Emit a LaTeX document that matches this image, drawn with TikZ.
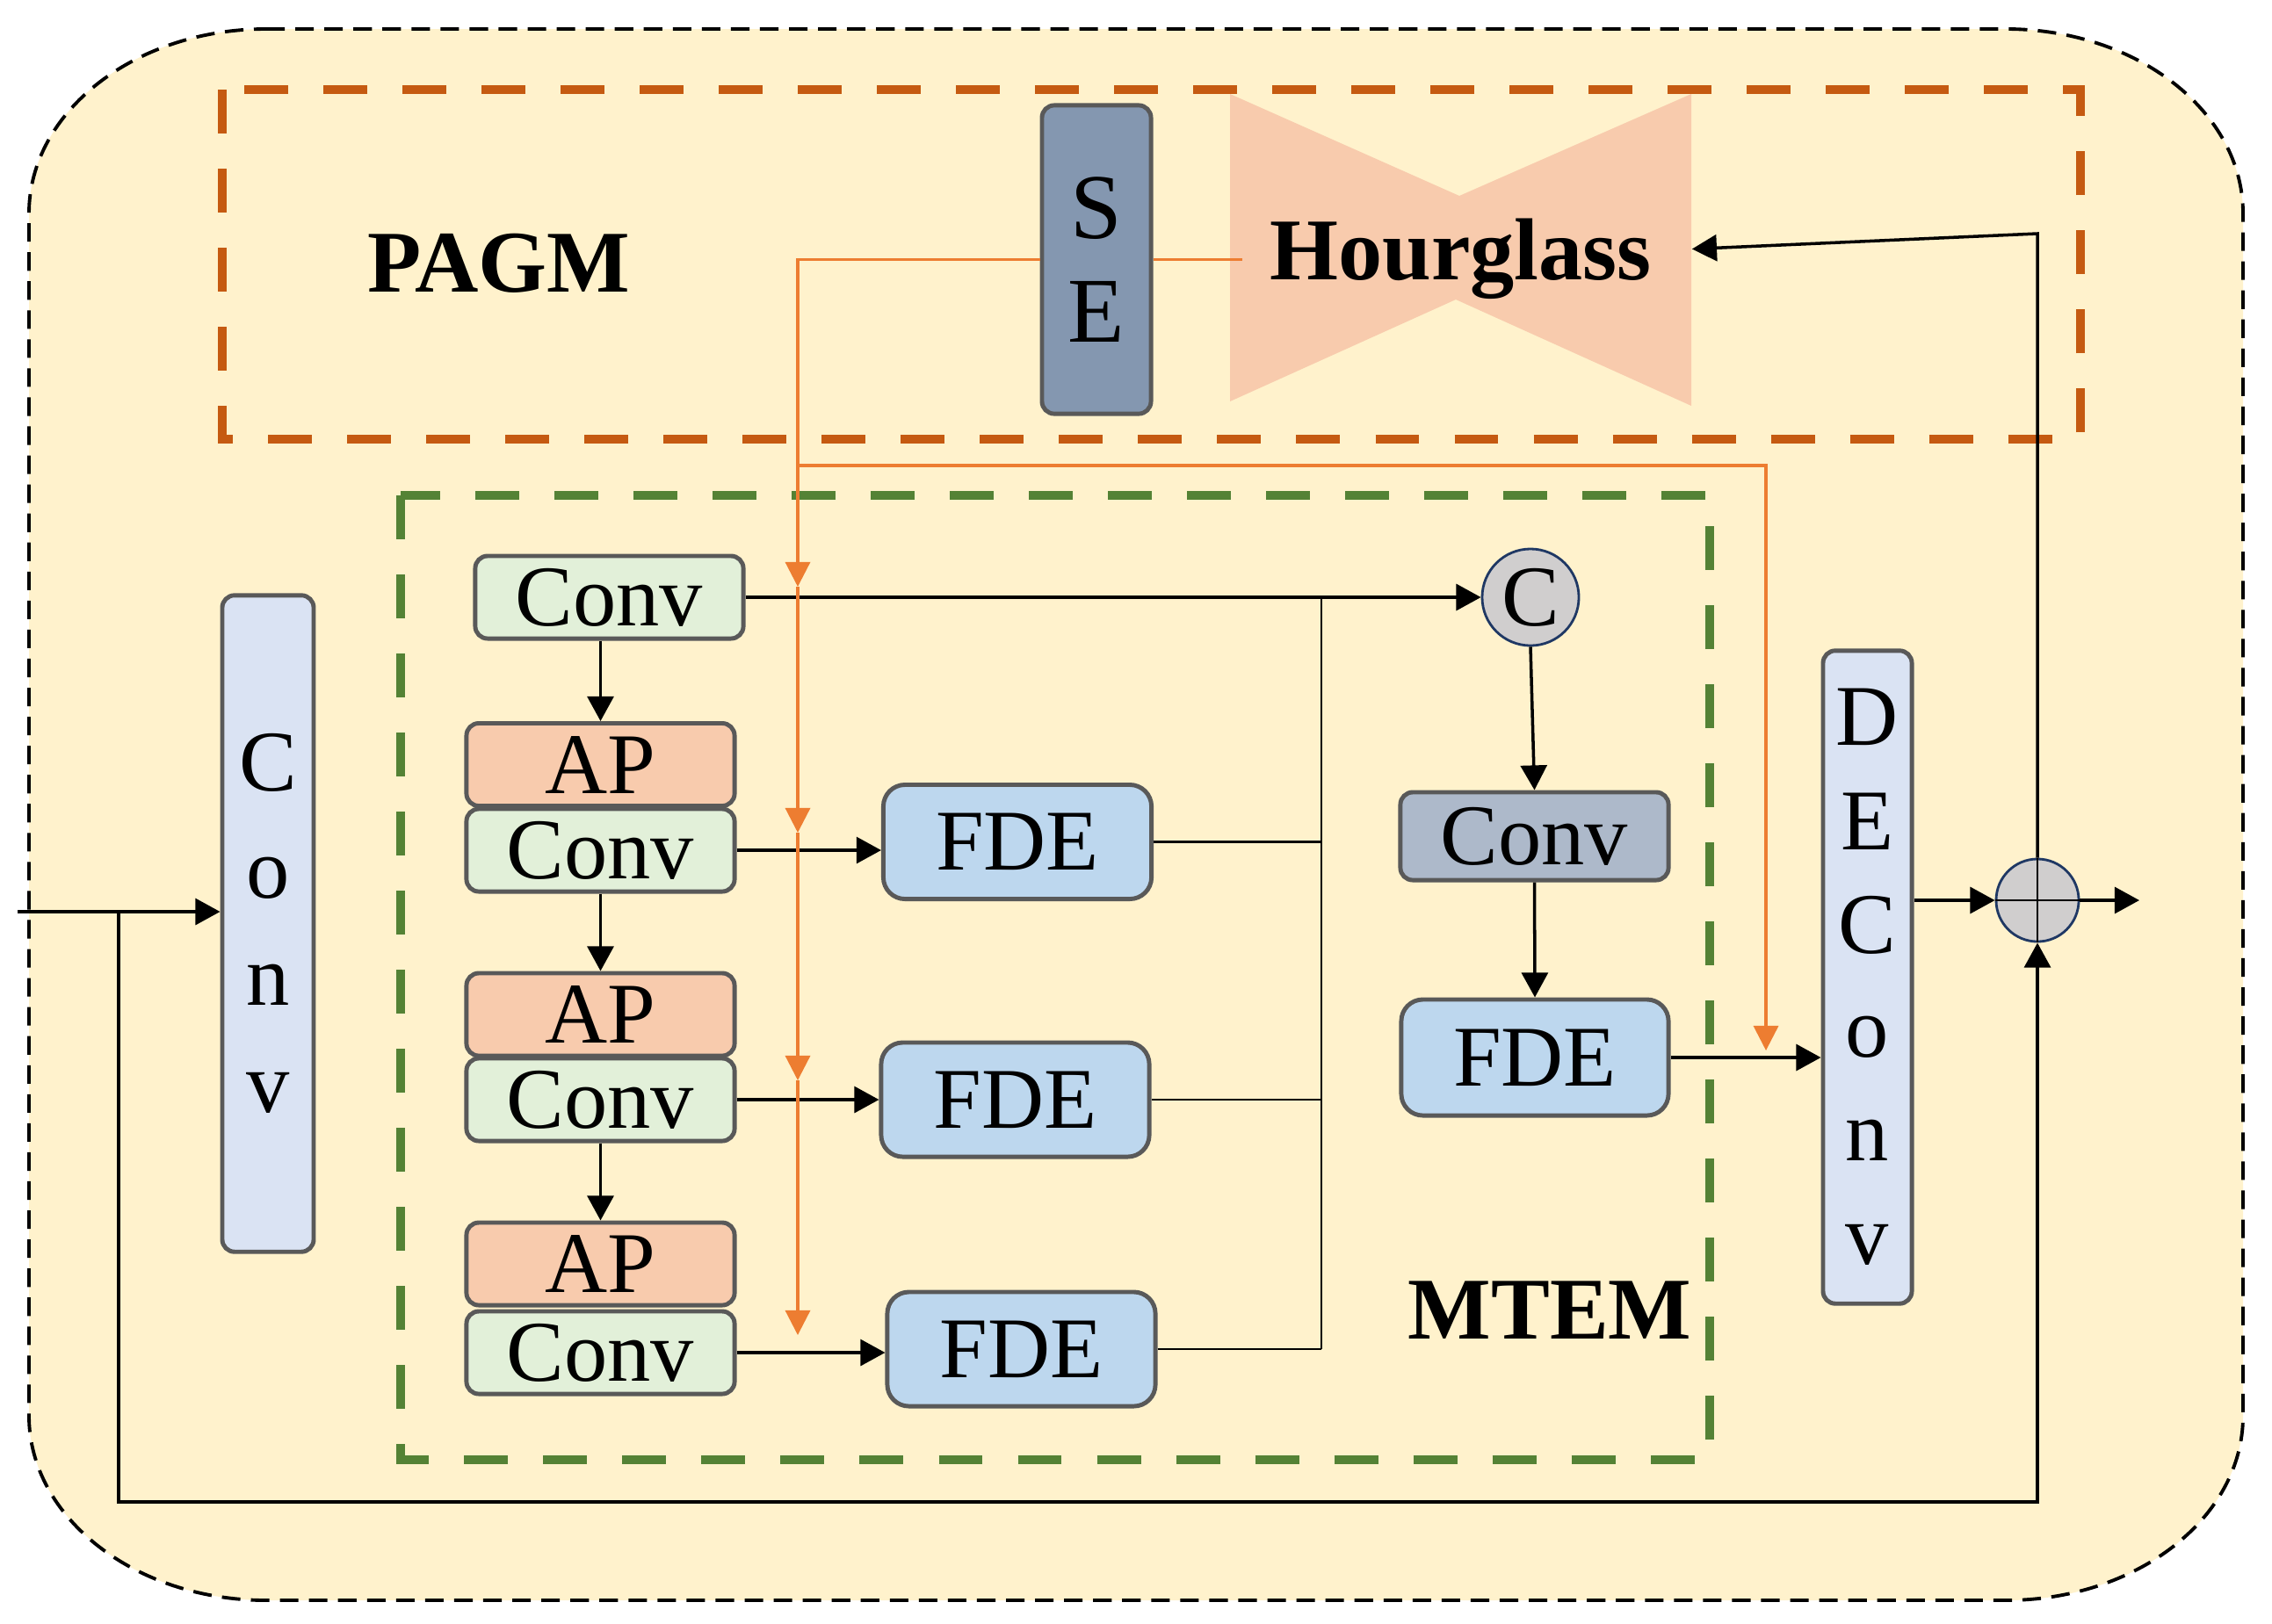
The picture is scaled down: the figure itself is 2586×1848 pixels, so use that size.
\documentclass[tikz,border=0pt]{standalone}
\usepackage{fontspec}
\setmainfont{Liberation Serif}
\usetikzlibrary{arrows.meta}
\definecolor{bgy}{HTML}{FFF2CC}
\definecolor{pagmc}{HTML}{C55A11}
\definecolor{mtemc}{HTML}{548235}
\definecolor{orl}{HTML}{ED7D31}
\definecolor{sec}{HTML}{8497B0}
\definecolor{hgc}{HTML}{F8CBAD}
\definecolor{convg}{HTML}{E2F0D9}
\definecolor{apc}{HTML}{F8CBAD}
\definecolor{fdec}{HTML}{BDD7EE}
\definecolor{conv5c}{HTML}{ADB9CA}
\definecolor{tallc}{HTML}{DAE3F3}
\definecolor{cg}{HTML}{D0CECE}
\definecolor{navy}{HTML}{1F3864}
\definecolor{bord}{HTML}{595959}
\tikzset{
  box/.style={draw=bord, line width=1.4pt, rounded corners=4pt, inner sep=0pt,
              font=\fontsize{28}{30}\selectfont},
  convbox/.style={box, fill=convg, minimum width=3.05cm, minimum height=0.94cm},
  apbox/.style={box, fill=apc, minimum width=3.05cm, minimum height=0.94cm},
  fdebox/.style={box, fill=fdec, minimum width=3.05cm, minimum height=1.3cm, rounded corners=7pt},
  tallbox/.style={box, fill=tallc, align=center},
  circ/.style={circle, draw=navy, line width=0.8pt, fill=cg, inner sep=0pt,
               font=\fontsize{28}{30}\selectfont},
  title/.style={font=\bfseries\fontsize{28.5}{30}\selectfont, inner sep=0pt},
  arr/.style={-{Triangle[length=8pt,width=8.5pt]}, line width=1pt},
  ln/.style={line width=0.8pt},
  oline/.style={draw=orl, line width=0.9pt},
  oarr/.style={oline, -{Triangle[length=8pt,width=8pt]}},
  frame/.style={line width=3pt, dash pattern=on 14.2pt off 11.4pt},
}
\begin{document}
\begin{tikzpicture}[x=0.01cm,y=-0.01cm]
\useasboundingbox (0,0) rectangle (2586,1848);
% outer frame
\draw[fill=bgy, line width=1.1pt, dash pattern=on 6pt off 3.4pt]
  (303,33) -- (2283,33) .. controls (2432,33) and (2553,127) .. (2553,243)
  -- (2553,1612) .. controls (2553,1728) and (2432,1822) .. (2283,1822)
  -- (303,1822) .. controls (154,1822) and (33,1728) .. (33,1612)
  -- (33,243) .. controls (33,127) and (154,33) .. (303,33) -- cycle;
% module frames
\draw[frame, draw=pagmc] (253,102) rectangle (2368,500);
\draw[frame, draw=mtemc] (456,564) rectangle (1946,1662);
% hourglass shape
\fill[hgc] (1400,107) -- (1661,223) -- (1925,107) -- (1925,462) -- (1657,341) -- (1400,457) -- cycle;
\node[title, text depth=0pt, minimum width=5.25cm, minimum height=3.53cm] (hg) at (1662.5,283.5) {Hourglass};
\node[title] (pagm) at (568,300) {PAGM};
\node[title] (mtem) at (1764,1492) {MTEM};
% SE
\node[box, fill=sec, minimum width=1.24cm, minimum height=3.51cm, align=center,
      font=\fontsize{30}{33.6}\selectfont] (se) at (1248,295.5) {S\\E};
% left big conv
\node[tallbox, minimum width=1.04cm, minimum height=7.47cm,
      font=\fontsize{28}{34.7}\selectfont] (bigconv) at (305,1051.5) {C\\o\\n\\v};
% MTEM column
\node[convbox] (conv1) at (693.5,680) {Conv};
\node[apbox] (ap1) at (683.5,870.5) {AP};
\node[convbox] (conv2) at (683.5,968) {Conv};
\node[apbox] (ap2) at (683.5,1155) {AP};
\node[convbox] (conv3) at (683.5,1252) {Conv};
\node[apbox] (ap3) at (683.5,1439) {AP};
\node[convbox] (conv4) at (683.5,1540) {Conv};
\node[fdebox] (fde1) at (1158,958.5) {FDE};
\node[fdebox] (fde2) at (1155.5,1252) {FDE};
\node[fdebox] (fde3) at (1162.5,1536) {FDE};
\node[circ, minimum size=1.1cm] (c) at (1742,680) {C};
\node[box, fill=conv5c, minimum width=3.05cm, minimum height=1.0cm] (conv5) at (1746.5,952) {Conv};
\node[fdebox, minimum width=3.04cm, minimum height=1.32cm] (fde4) at (1747,1204) {FDE};
% DEConv
\node[tallbox, minimum width=1.01cm, minimum height=7.43cm,
      font=\fontsize{28}{33.6}\selectfont] (deconv) at (2125.5,1112.5) {D\\E\\C\\o\\n\\v};
% plus
\node[circ, minimum size=0.94cm] (plus) at (2319,1025) {};
\draw[ln] (plus.north) -- (plus.south) (plus.west) -- (plus.east);
% coordinates
\coordinate (in) at (20,1038);
\coordinate (split) at (135,1038);
\coordinate (bus) at (1504,680);
\coordinate (out) at (2435,1025);
\coordinate (o1) at (908,668);
\coordinate (o2) at (908,948);
\coordinate (o3) at (908,1230);
\coordinate (o4) at (908,1520);
\coordinate (ob) at (908,530);
% black connectors
\draw[arr] (in) -- (in -| bigconv.west);
\draw[arr] (split) -- (135,1710) -| (plus.south);
\draw[arr] (plus.north) -- (plus.north |- 0,266) -- (hg.east);
\draw[arr] (conv1.east) -- (c.west);
\draw[arr] (ap1.north |- conv1.south) -- (ap1.north);
\draw[arr] (conv2.south) -- (ap2.north);
\draw[arr] (conv3.south) -- (ap3.north);
\draw[arr] (conv2.east) -- (conv2.east -| fde1.west);
\draw[arr] (conv3.east) -- (conv3.east -| fde2.west);
\draw[arr] (conv4.east) -- (conv4.east -| fde3.west);
\draw[ln] (bus) -- (bus |- fde3.east);
\draw[ln] (fde1.east) -- (fde1.east -| bus);
\draw[ln] (fde2.east) -- (fde2.east -| bus);
\draw[ln] (fde3.east) -- (fde3.east -| bus);
\draw[arr] (c.south) -- (conv5.north);
\draw[arr] (conv5.south) -- (fde4.north);
\draw[arr] (fde4.east) -- (fde4.east -| deconv.west);
\draw[arr] (deconv.east |- plus) -- (plus.west);
\draw[arr] (plus.east) -- (out);
% orange connectors
\draw[oline] (se.east) -- ([xshift=0.15cm]se.east -| hg.west);
\draw[oarr] (se.west) -- (o1 |- se.west) -- (o1);
\draw[oarr] (o1) -- (o2);
\draw[oarr] (o2) -- (o3);
\draw[oarr] (o3) -- (o4);
\draw[oarr] (ob) -- (2010,530) -- (2010,1196);
\end{tikzpicture}
\end{document}
